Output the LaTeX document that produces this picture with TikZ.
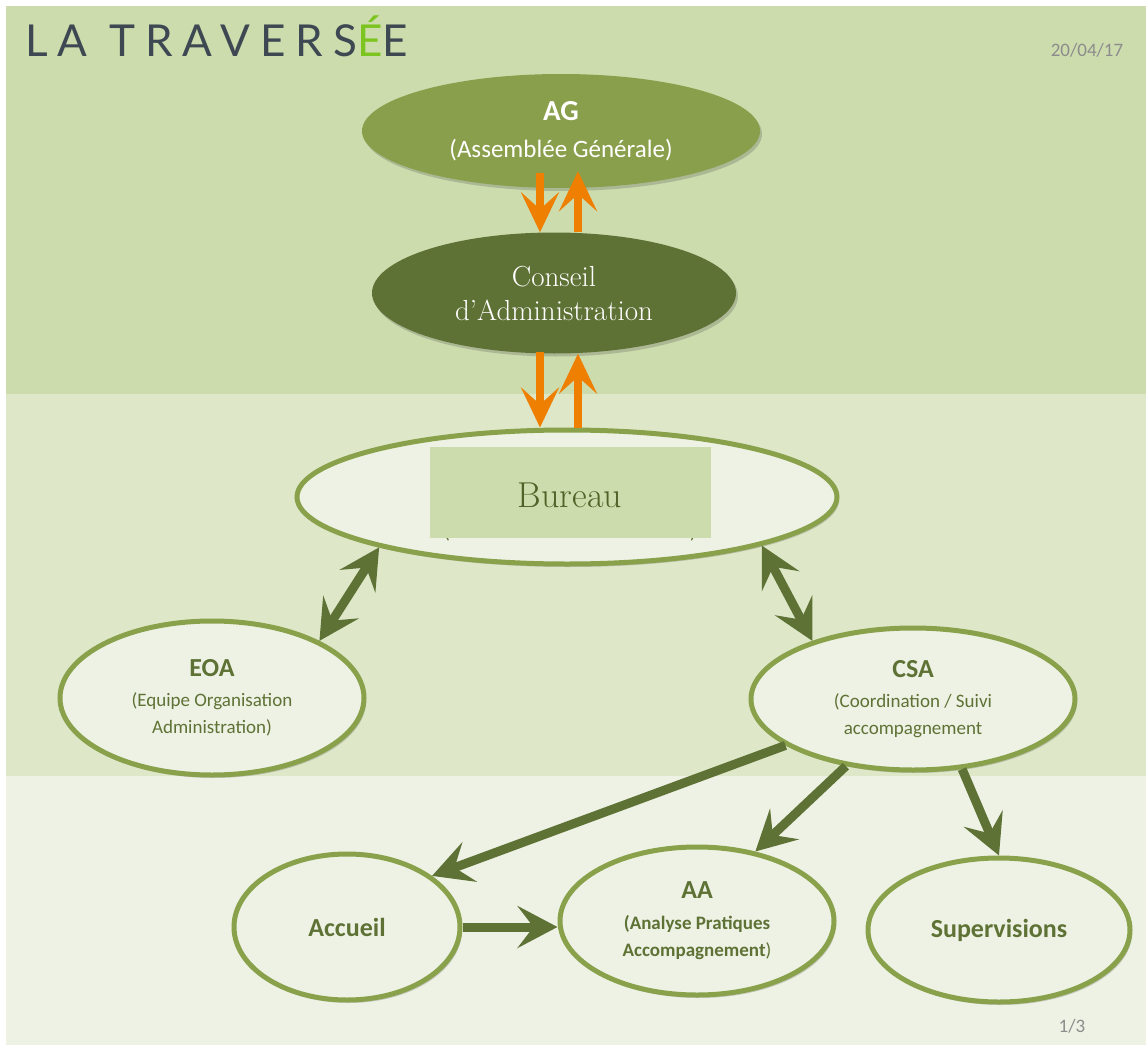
\documentclass[tikz,border=0pt]{standalone}
\usepackage{fontspec}
\newfontfamily\labelfont{Carlito}
\newfontfamily\titlefont[LetterSpace=23]{Lato}
\usetikzlibrary{shapes.geometric,arrows.meta,shadows,positioning}
\definecolor{bandtop}{HTML}{CDDCAD}
\definecolor{bandmid}{HTML}{DEE8C9}
\definecolor{bandlow}{HTML}{EEF2E4}
\definecolor{agfill}{HTML}{8A9F4B}
\definecolor{cafill}{HTML}{5F7236}
\definecolor{rim}{HTML}{8AA14C}
\definecolor{dkolive}{HTML}{5E7235}
\definecolor{burtext}{HTML}{4F6228}
\definecolor{orangearr}{HTML}{EE7F00}
\definecolor{titlegray}{HTML}{3D4852}
\definecolor{titlegreen}{HTML}{7CC520}
\definecolor{pagegray}{HTML}{8C8C8C}

\tikzset{
  softshadow/.style={drop shadow={shadow xshift=2pt, shadow yshift=-3pt, opacity=0.25, fill=black!70}},
  darkell/.style={ellipse, inner sep=0pt, text=white, align=center, softshadow},
  lightell/.style={ellipse, draw=rim, line width=5pt, fill=bandlow, inner sep=0pt, text=dkolive, align=center, font=\labelfont\fontsize{19}{27}\selectfont, softshadow},
  oarrow/.style={draw=orangearr, line width=8pt, -{Stealth[length=40pt, width=38pt, inset=17pt]}},
  garrow/.style={draw=dkolive, line width=9pt, -{Stealth[length=40pt, width=42pt, inset=16pt]}},
  gboth/.style={draw=dkolive, line width=9pt, {Stealth[length=40pt, width=42pt, inset=16pt]}-{Stealth[length=40pt, width=42pt, inset=16pt]}}
}

\begin{document}
\begin{tikzpicture}[x=1pt, y=-1pt]
\useasboundingbox (0,0) rectangle (1146,1046);
\fill[white] (0,0) rectangle (1146,1046);
\fill[bandtop] (6,6) rectangle (1146,394);
\fill[bandmid] (6,394) rectangle (1146,776);
\fill[bandlow] (6,776) rectangle (1146,1045);

\node (title) at (25,57) [anchor=base west, inner sep=0pt, text=titlegray, font=\titlefont\fontsize{44}{44}\selectfont] {LA TRAVERS{\color{titlegreen}É}E};
\node (date) at (1087,57) [anchor=base, inner sep=0pt, text=pagegray, font=\labelfont\fontsize{19}{19}\selectfont] {20/04/17};
\node (pageno) at (1072,1032) [anchor=base, inner sep=0pt, text=pagegray, font=\labelfont\fontsize{19}{19}\selectfont] {1/3};

\node (ag) at (561,131) [darkell, fill=agfill, minimum width=398pt, minimum height=114pt, font=\labelfont\fontsize{25}{37}\selectfont] {{\bfseries\fontsize{29}{37}\selectfont AG}\\(Assemblée Générale)};
\node (ca) at (554,293) [darkell, fill=cafill, minimum width=364pt, minimum height=121pt, font=\rmfamily\fontsize{29}{34}\selectfont] {Conseil\\d’Administration};

\node (bureau) at (567,497) [lightell, minimum width=540pt, minimum height=134pt] {};
\node (bureau_sub) at (570,538) [anchor=base, inner sep=0pt, text=dkolive, font=\labelfont\fontsize{19}{19}\selectfont] {(\hspace{240pt})};
\node (bureau_box) at (570,492.5) [rectangle, fill=bandtop, minimum width=281pt, minimum height=91pt, inner sep=0pt, text height=29pt, text depth=0pt, text=burtext, font=\rmfamily\fontsize{36}{36}\selectfont] {Bureau};

\node (eoa) at (212,698) [lightell, minimum width=304pt, minimum height=154pt] {{\bfseries\fontsize{26}{26}\selectfont EOA}\\[3pt](Equipe Organisation\\Administration)};
\node (csa) at (913,699) [lightell, minimum width=324pt, minimum height=142pt] {{\bfseries\fontsize{26}{26}\selectfont CSA}\\[3pt](Coordination / Suivi\\accompagnement};

\node (accueil) at (347,927) [lightell, minimum width=226pt, minimum height=146pt, font=\labelfont\bfseries\fontsize{26}{30}\selectfont] {Accueil};
\node (aa) at (697,921) [lightell, minimum width=274pt, minimum height=148pt, font=\labelfont\bfseries\fontsize{19}{27}\selectfont] {{\fontsize{26}{26}\selectfont AA}\\[4pt](Analyse Pratiques\\Accompagnement{\mdseries)}};
\node (supervisions) at (999,930) [lightell, minimum width=262pt, minimum height=144pt, font=\labelfont\bfseries\fontsize{26}{30}\selectfont] {Supervisions};

\draw [oarrow] ([xshift=-21pt, yshift=15pt]ag.south) -- ([xshift=-14pt]ca.north);
\draw [oarrow] ([xshift=24pt]ca.north) -- ([xshift=17pt, yshift=17pt]ag.south);
\draw [oarrow] ([xshift=-14pt, yshift=2pt]ca.south) -- ([xshift=-27pt]bureau.north);
\draw [oarrow] ([xshift=11pt]bureau.north) -- ([xshift=24pt]ca.south);

\draw [gboth] (eoa.28) -- (bureau.195);
\draw [gboth] (bureau.346) -- (csa.150);
\draw [garrow] (csa.200) -- (accueil.31);
\draw [garrow] (csa.225) -- (aa.50);
\draw [garrow] (csa.305) -- (supervisions.90);
\draw [garrow] (accueil.east) -- (accueil.east -| aa.west);

\end{tikzpicture}
\end{document}
